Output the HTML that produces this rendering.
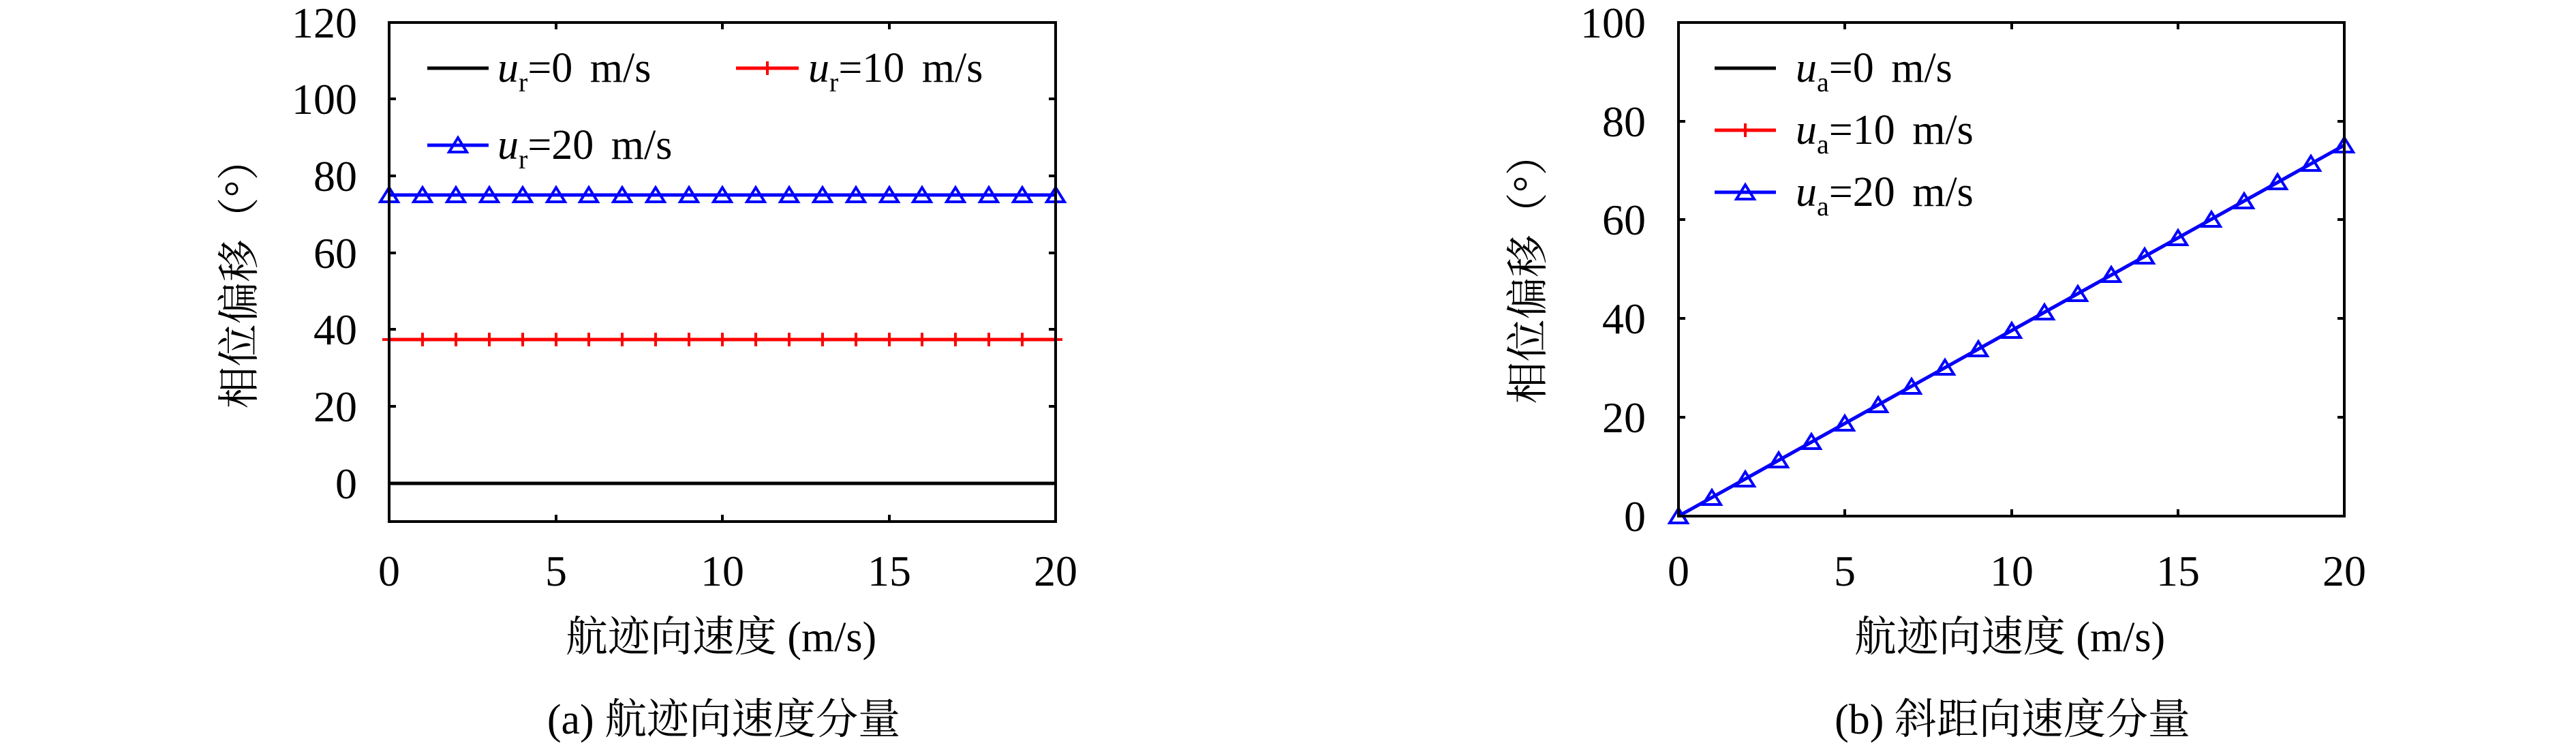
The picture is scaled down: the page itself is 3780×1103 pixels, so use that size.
<!DOCTYPE html>
<html><head><meta charset="utf-8"><style>
html,body{margin:0;padding:0;background:#fff;}
svg{display:block;}
text{font-family:"Liberation Serif","Noto Serif CJK SC",serif;fill:#000;}
.t{font-size:64px;}
.l{font-size:62px;word-spacing:10px;}
.c{font-family:"Liberation Serif","Noto Serif CJK SC",serif;font-size:62px;}
</style></head><body>
<svg width="3780" height="1103" viewBox="0 0 3780 1103" xmlns="http://www.w3.org/2000/svg">
<defs>
<g id="tri"><polygon points="0,-11 -13,10 13,10" fill="none" stroke="#0000ff" stroke-width="4"/></g>
<g id="plus"><path d="M-10,0H10M0,-10V10" stroke="#ff0000" stroke-width="4"/></g>
</defs>

<g>
<line x1="571" y1="709" x2="1549" y2="709" stroke="#000" stroke-width="5"/>
<line x1="571" y1="498" x2="1549" y2="498" stroke="#ff0000" stroke-width="5"/>
<line x1="571" y1="286" x2="1549" y2="286" stroke="#0000ff" stroke-width="5"/>
<use href="#plus" x="571" y="498"/><use href="#plus" x="620" y="498"/><use href="#plus" x="669" y="498"/><use href="#plus" x="718" y="498"/><use href="#plus" x="767" y="498"/><use href="#plus" x="816" y="498"/><use href="#plus" x="864" y="498"/><use href="#plus" x="913" y="498"/><use href="#plus" x="962" y="498"/><use href="#plus" x="1011" y="498"/><use href="#plus" x="1060" y="498"/><use href="#plus" x="1109" y="498"/><use href="#plus" x="1158" y="498"/><use href="#plus" x="1207" y="498"/><use href="#plus" x="1256" y="498"/><use href="#plus" x="1305" y="498"/><use href="#plus" x="1353" y="498"/><use href="#plus" x="1402" y="498"/><use href="#plus" x="1451" y="498"/><use href="#plus" x="1500" y="498"/><use href="#plus" x="1549" y="498"/>
<use href="#tri" x="571" y="286"/><use href="#tri" x="620" y="286"/><use href="#tri" x="669" y="286"/><use href="#tri" x="718" y="286"/><use href="#tri" x="767" y="286"/><use href="#tri" x="816" y="286"/><use href="#tri" x="864" y="286"/><use href="#tri" x="913" y="286"/><use href="#tri" x="962" y="286"/><use href="#tri" x="1011" y="286"/><use href="#tri" x="1060" y="286"/><use href="#tri" x="1109" y="286"/><use href="#tri" x="1158" y="286"/><use href="#tri" x="1207" y="286"/><use href="#tri" x="1256" y="286"/><use href="#tri" x="1305" y="286"/><use href="#tri" x="1353" y="286"/><use href="#tri" x="1402" y="286"/><use href="#tri" x="1451" y="286"/><use href="#tri" x="1500" y="286"/><use href="#tri" x="1549" y="286"/>
<rect x="571" y="33" width="978" height="732" fill="none" stroke="#000" stroke-width="4"/>
<path d="M571,709h10M571,596h10M571,483h10M571,371h10M571,258h10M571,145h10M1549,709h-10M1549,596h-10M1549,483h-10M1549,371h-10M1549,258h-10M1549,145h-10M816,765v-10M1060,765v-10M1305,765v-10M816,33v10M1060,33v10M1305,33v10" stroke="#000" stroke-width="4"/>
<g class="t" text-anchor="end">
<text x="524" y="731">0</text><text x="524" y="618">20</text><text x="524" y="505">40</text><text x="524" y="393">60</text><text x="524" y="280">80</text><text x="524" y="167">100</text><text x="524" y="55">120</text>
</g>
<g class="t" text-anchor="middle">
<text x="571" y="859">0</text><text x="816" y="859">5</text><text x="1060" y="859">10</text><text x="1305" y="859">15</text><text x="1549" y="859">20</text>
</g>
<text class="c" x="1058" y="955" text-anchor="middle">航迹向速度 (m/s)</text>
<text class="c" x="1062" y="1076" text-anchor="middle">(a) 航迹向速度分量</text>
<text class="c" transform="translate(372,401) rotate(-90)" text-anchor="middle">相位偏移（°）</text>
<line x1="627" y1="100" x2="717" y2="100" stroke="#000" stroke-width="5"/>
<text class="l" x="730" y="120"><tspan font-style="italic">u</tspan><tspan font-size="40" dy="14">r</tspan><tspan dy="-14">=0 m/s</tspan></text>
<line x1="1080" y1="100" x2="1172" y2="100" stroke="#ff0000" stroke-width="5"/>
<use href="#plus" x="1126" y="100"/>
<text class="l" x="1186" y="120"><tspan font-style="italic">u</tspan><tspan font-size="40" dy="14">r</tspan><tspan dy="-14">=10 m/s</tspan></text>
<line x1="627" y1="213" x2="717" y2="213" stroke="#0000ff" stroke-width="5"/>
<use href="#tri" x="672" y="213"/>
<text class="l" x="730" y="233"><tspan font-style="italic">u</tspan><tspan font-size="40" dy="14">r</tspan><tspan dy="-14">=20 m/s</tspan></text>
</g>

<g>
<line x1="2463" y1="757" x2="3440" y2="213" stroke="#ff0000" stroke-width="5"/>
<line x1="2463" y1="757" x2="3440" y2="213" stroke="#0000ff" stroke-width="5"/>
<use href="#tri" x="2463" y="757"/><use href="#tri" x="2512" y="730"/><use href="#tri" x="2561" y="703"/><use href="#tri" x="2610" y="675"/><use href="#tri" x="2658" y="648"/><use href="#tri" x="2707" y="621"/><use href="#tri" x="2756" y="594"/><use href="#tri" x="2805" y="567"/><use href="#tri" x="2854" y="539"/><use href="#tri" x="2903" y="512"/><use href="#tri" x="2952" y="485"/><use href="#tri" x="3000" y="458"/><use href="#tri" x="3049" y="431"/><use href="#tri" x="3098" y="403"/><use href="#tri" x="3147" y="376"/><use href="#tri" x="3196" y="349"/><use href="#tri" x="3245" y="322"/><use href="#tri" x="3293" y="295"/><use href="#tri" x="3342" y="267"/><use href="#tri" x="3391" y="240"/><use href="#tri" x="3440" y="213"/>
<rect x="2463" y="33" width="977" height="724" fill="none" stroke="#000" stroke-width="4"/>
<path d="M2463,612h10M2463,467h10M2463,322h10M2463,178h10M3440,612h-10M3440,467h-10M3440,322h-10M3440,178h-10M2707,757v-10M2952,757v-10M3196,757v-10M2707,33v10M2952,33v10M3196,33v10" stroke="#000" stroke-width="4"/>
<g class="t" text-anchor="end">
<text x="2415" y="779">0</text><text x="2415" y="634">20</text><text x="2415" y="489">40</text><text x="2415" y="344">60</text><text x="2415" y="200">80</text><text x="2415" y="55">100</text>
</g>
<g class="t" text-anchor="middle">
<text x="2463" y="859">0</text><text x="2707" y="859">5</text><text x="2952" y="859">10</text><text x="3196" y="859">15</text><text x="3440" y="859">20</text>
</g>
<text class="c" x="2949" y="955" text-anchor="middle">航迹向速度 (m/s)</text>
<text class="c" x="2953" y="1076" text-anchor="middle">(b) 斜距向速度分量</text>
<text class="c" transform="translate(2263,394) rotate(-90)" text-anchor="middle">相位偏移（°）</text>
<line x1="2516" y1="100" x2="2606" y2="100" stroke="#000" stroke-width="5"/>
<text class="l" x="2635" y="120"><tspan font-style="italic">u</tspan><tspan font-size="40" dy="14">a</tspan><tspan dy="-14">=0 m/s</tspan></text>
<line x1="2516" y1="191" x2="2606" y2="191" stroke="#ff0000" stroke-width="5"/>
<use href="#plus" x="2561" y="191"/>
<text class="l" x="2635" y="211"><tspan font-style="italic">u</tspan><tspan font-size="40" dy="14">a</tspan><tspan dy="-14">=10 m/s</tspan></text>
<line x1="2516" y1="282" x2="2606" y2="282" stroke="#0000ff" stroke-width="5"/>
<use href="#tri" x="2561" y="282"/>
<text class="l" x="2635" y="302"><tspan font-style="italic">u</tspan><tspan font-size="40" dy="14">a</tspan><tspan dy="-14">=20 m/s</tspan></text>
</g>
</svg>
</body></html>
